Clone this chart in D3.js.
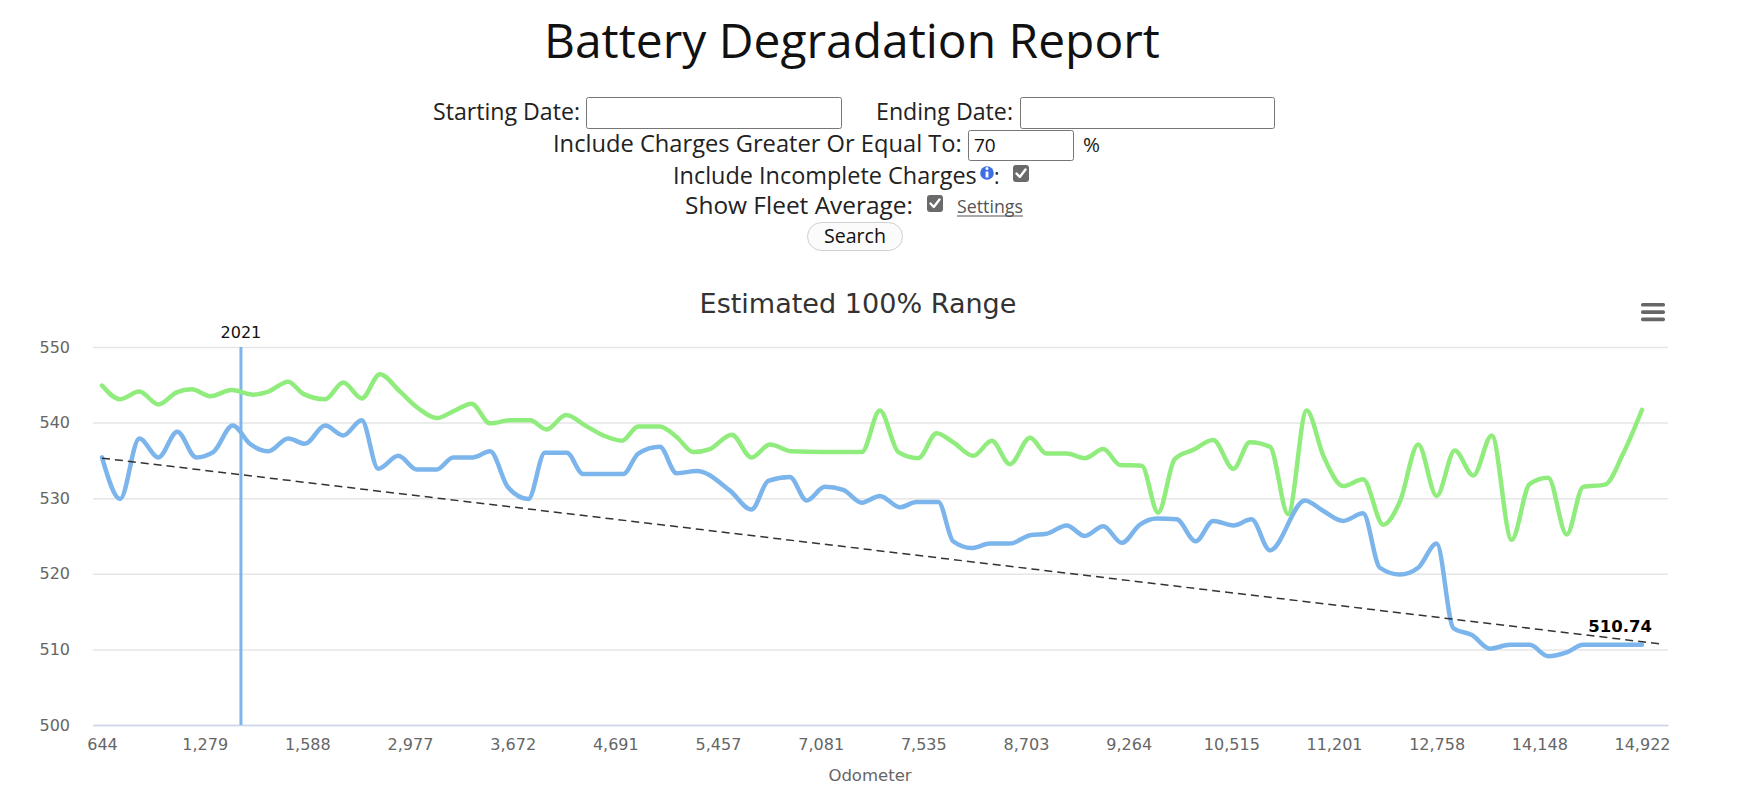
<!DOCTYPE html>
<html><head><meta charset="utf-8">
<script src="https://cdn.jsdelivr.net/npm/d3@7"></script>
<style>
html,body{margin:0;padding:0;background:#fff;}
svg{display:block;}
</style></head><body>
<svg id="page" width="1741" height="805"></svg>
<script>
// ---------------- DATA ----------------
const xTickLabels = ["644","1,279","1,588","2,977","3,672","4,691","5,457","7,081","7,535","8,703","9,264","10,515","11,201","12,758","14,148","14,922"];
const xTickDays = [0,30,60,90,120,150,180,210,240,270,300,330,360,390,420,450];
const yTicks = [500,510,520,530,540,550];

// Vehicle series (blue): day position and estimated 100% range
const blueDay = [0,5.3,10.9,16.5,22.0,27.5,32.5,38.2,43.2,48.6,54.4,59.3,65.2,70.5,75.9,80.7,86.6,92.0,97.8,102.6,108.5,113.4,118.7,124.6,129.4,135.8,140.6,152.3,156.7,163.0,167.9,173.8,183.5,189.8,194.7,201.0,205.9,211.2,216.6,222.0,227.3,233.2,238.0,244.4,248.7,254.1,259.5,265.3,271.2,276.0,281.9,287.2,292.6,298.0,303.3,308.2,314.0,319.6,324.7,330.6,335.9,341.3,351.5,356.9,362.7,368.5,373.4,379.3,384.6,390.0,394.9,400.3,405.6,411.4,417.2,422.6,428.0,432.8,441.0,450.0];
const blueRange = [535.4,529.9,537.9,535.4,538.8,535.4,536.1,539.6,537.2,536.2,537.9,537.2,539.6,538.3,540.3,533.9,535.6,533.8,533.8,535.4,535.4,536.2,531.4,529.9,536.0,536.0,533.2,533.2,535.9,536.8,533.3,533.6,531.0,528.5,532.3,532.8,529.7,531.5,531.1,529.4,530.3,528.8,529.5,529.5,524.3,523.4,524.0,524.0,525.1,525.3,526.4,525.0,526.3,524.1,526.5,527.3,527.2,524.3,527.0,526.4,527.2,523.1,529.7,528.3,527.0,528.0,520.8,519.9,520.8,524.0,512.8,511.9,510.1,510.6,510.6,509.1,509.6,510.6,510.6,510.6];

// Fleet average series (green)
const greenDay = [0,5.3,10.9,16.5,21.8,26.2,31.6,37.9,44.2,48.6,54.4,58.8,65.2,70.5,75.9,81.2,87.1,92.4,97.8,103.1,108.0,113.4,119.2,125.1,129.9,135.6,141.6,146.5,151.9,156.7,163.0,167.9,172.8,177.6,184.0,189.8,195.2,201.5,210.8,222.0,227.3,232.7,238.5,243.9,248.7,254.6,260.0,265.3,271.2,276.0,281.9,287.2,292.6,297.5,303.8,308.6,313.5,318.9,324.7,330.6,335.4,341.3,346.6,352.0,356.9,362.7,368.5,374.4,379.3,384.6,390.0,395.3,400.7,406.1,411.9,417.2,422.6,428.0,432.8,439.2,444.5,450.0];
const greenRange = [544.9,543.1,544.1,542.4,544.0,544.4,543.5,544.3,543.7,544.1,545.4,543.8,543.1,545.3,543.2,546.4,544.1,541.9,540.6,541.6,542.5,539.9,540.3,540.3,539.1,541.0,539.5,538.3,537.6,539.5,539.5,538.1,536.1,536.5,538.4,535.4,537.1,536.2,536.1,536.1,541.6,536.1,535.3,538.6,537.4,535.6,537.6,534.5,538.0,535.9,535.9,535.3,536.5,534.4,534.3,528.1,535.2,536.4,537.7,533.9,537.4,536.8,527.9,541.6,535.6,531.6,532.5,526.5,529.6,537.1,530.3,536.3,533.0,538.3,524.5,531.9,532.7,525.2,531.5,531.8,535.9,541.7];

// Trend line (dashed)
const trendDay = [0, 455.2];
const trendRange = [535.3, 510.74];
const trendLabel = "510.74";

// Year marker
const yearLineDay = 40.6;
const yearLineLabel = "2021";

// ---------------- LAYOUT ----------------
const svg = d3.select("#page");
const HF = "'Open Sans', 'Noto Sans', sans-serif";
const CF = "'DejaVu Sans', Verdana, sans-serif";
const plot = {left: 93, right: 1668, top: 347, bottom: 725};

function fitText(sel, width) {
  const len = sel.node().getComputedTextLength();
  const fs = parseFloat(sel.attr("font-size"));
  sel.attr("font-size", (fs * width / len).toFixed(2));
  return sel;
}
function htext(txt, x, y, w, size, opts = {}) {
  const t = svg.append("text").attr("x", x).attr("y", y)
    .attr("font-family", opts.font || HF).attr("font-size", size)
    .attr("fill", opts.fill || "#222").attr("text-anchor", opts.anchor || "start")
    .attr("font-weight", opts.weight || "normal").text(txt);
  if (w) fitText(t, w);
  return t;
}
function inputBox(x, y, w, h) {
  svg.append("rect").attr("x", x + 0.5).attr("y", y + 0.5).attr("width", w).attr("height", h)
    .attr("rx", 2).attr("fill", "#fff").attr("stroke", "#767676").attr("stroke-width", 1);
}
function checkbox(x, y) {
  svg.append("rect").attr("x", x).attr("y", y).attr("width", 16).attr("height", 17)
    .attr("rx", 3).attr("fill", "#6a6a6a");
  svg.append("path").attr("d", `M${x+3.5},${y+8.5} L${x+6.8},${y+12} L${x+12.5},${y+4.5}`)
    .attr("fill", "none").attr("stroke", "#fff").attr("stroke-width", 2.4)
    .attr("stroke-linecap", "round").attr("stroke-linejoin", "round");
}

// Page title
htext("Battery Degradation Report", 544, 58, 616, 46, {fill: "#111"});

// Row 1
htext("Starting Date:", 433, 120, 147, 21);
inputBox(586, 97, 255, 31);
htext("Ending Date:", 876, 120, 137, 21);
inputBox(1020, 97, 254, 31);
// Row 2
htext("Include Charges Greater Or Equal To:", 553, 152, 409, 21);
inputBox(968, 130, 105, 30);
htext("70", 974, 152, null, 19, {fill: "#111"});
htext("%", 1083, 152, 17, 21);
// Row 3
htext("Include Incomplete Charges", 673, 183.5, 304, 21);
svg.append("circle").attr("cx", 987).attr("cy", 173).attr("r", 6.8).attr("fill", "#3c6ee6");
svg.append("rect").attr("x", 985.6).attr("y", 171.5).attr("width", 2.8).attr("height", 6).attr("fill", "#fff");
svg.append("circle").attr("cx", 987).attr("cy", 168.6).attr("r", 1.5).attr("fill", "#fff");
htext(":", 994, 183.5, null, 21);
checkbox(1013, 165);
// Row 4
htext("Show Fleet Average:", 685, 214, 228, 20.5);
checkbox(927, 195);
htext("Settings", 957, 213, 66, 16, {fill: "#555"});
svg.append("line").attr("x1", 957).attr("x2", 1023).attr("y1", 216).attr("y2", 216)
  .attr("stroke", "#555").attr("stroke-width", 1.2);
// Search button
svg.append("rect").attr("x", 807.5).attr("y", 222.5).attr("width", 95).attr("height", 28)
  .attr("rx", 14).attr("fill", "#fbfbfb").attr("stroke", "#cfcfcf").attr("stroke-width", 1);
htext("Search", 855, 243, 62, 19, {anchor: "middle", fill: "#111"});

// ---------------- CHART ----------------
const x = d3.scaleLinear().domain([-2.63, 457.6]).range([plot.left, plot.right]);
const y = d3.scaleLinear().domain([500, 550]).range([plot.bottom, plot.top]);

// Chart title
htext("Estimated 100% Range", 858, 313, 317, 27, {anchor: "middle", font: CF, fill: "#333"});

// Hamburger menu
[303, 310.3, 317.6].forEach(yy => {
  svg.append("rect").attr("x", 1641).attr("y", yy).attr("width", 24).attr("height", 3.6)
    .attr("rx", 1.6).attr("fill", "#666");
});

// Grid lines and y axis labels
const yAxis = d3.axisLeft(y).tickValues(yTicks).tickSize(-(plot.right - plot.left)).tickPadding(23);
const gy = svg.append("g").attr("transform", `translate(${plot.left},0)`).call(yAxis);
gy.select(".domain").remove();
gy.selectAll(".tick line").attr("stroke", "#e6e6e6").attr("stroke-width", 1.5);
gy.selectAll(".tick text").attr("font-family", CF).attr("font-size", 16).attr("fill", "#666");

// X axis
const xAxis = d3.axisBottom(x).tickValues(xTickDays)
  .tickFormat((d, i) => xTickLabels[i]).tickSize(0).tickPadding(14);
const gx = svg.append("g").attr("transform", `translate(0,${plot.bottom})`).call(xAxis);
gx.select(".domain").attr("stroke", "#ccd6eb").attr("stroke-width", 1.5);
gx.selectAll(".tick text").attr("font-family", CF).attr("font-size", 16).attr("fill", "#666");

// Axis title
htext("Odometer", 870, 781, null, 16.5, {anchor: "middle", font: CF, fill: "#666"});

// Clip
svg.append("clipPath").attr("id", "clip").append("rect")
  .attr("x", plot.left).attr("y", plot.top - 10).attr("width", plot.right - plot.left).attr("height", plot.bottom - plot.top + 10);

// Year plot line
svg.append("line").attr("x1", x(yearLineDay)).attr("x2", x(yearLineDay))
  .attr("y1", plot.top).attr("y2", plot.bottom)
  .attr("stroke", "#7cb5ec").attr("stroke-width", 3);
htext(yearLineLabel, x(yearLineDay), 338, null, 16, {anchor: "middle", font: CF, fill: "#111"});

const line = d3.line().curve(d3.curveMonotoneX).x(d => x(d[0])).y(d => y(d[1]));
const g = svg.append("g").attr("clip-path", "url(#clip)");

const greenPts = greenDay.map((d, i) => [d, greenRange[i]]);
const bluePts = blueDay.map((d, i) => [d, blueRange[i]]);
const trendPts = trendDay.map((d, i) => [d, trendRange[i]]);

g.append("path").datum(greenPts).attr("d", line).attr("fill", "none")
  .attr("stroke", "#90ed7d").attr("stroke-width", 4.5)
  .attr("stroke-linejoin", "round").attr("stroke-linecap", "round");
g.append("path").datum(bluePts).attr("d", line).attr("fill", "none")
  .attr("stroke", "#7cb5ec").attr("stroke-width", 4.5)
  .attr("stroke-linejoin", "round").attr("stroke-linecap", "round");
g.append("path").datum(trendPts).attr("d", d3.line().x(d => x(d[0])).y(d => y(d[1])))
  .attr("fill", "none").attr("stroke", "#333").attr("stroke-width", 1.5)
  .attr("stroke-dasharray", "8,5");

// Trend data label
const last = trendPts[trendPts.length - 1];
svg.append("text").attr("x", Math.min(x(last[0]) + 30, plot.right - 16)).attr("y", y(last[1]) - 12)
  .attr("text-anchor", "end").attr("font-family", CF).attr("font-size", 16.5)
  .attr("font-weight", "bold").attr("fill", "#000")
  .attr("stroke", "#fff").attr("stroke-width", 2.5).attr("paint-order", "stroke")
  .text(trendLabel);
</script>
</body></html>
